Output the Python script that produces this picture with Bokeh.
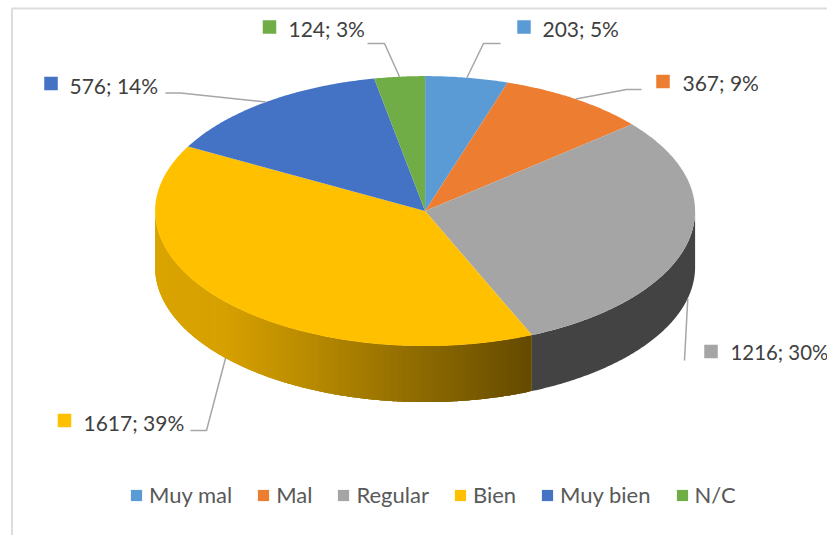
import math
from bokeh.plotting import figure
from bokeh.models import Range1d, Legend, LegendItem
from bokeh.core.properties import value
from bokeh.embed import file_html
from bokeh.resources import INLINE

categories = ["Muy mal", "Mal", "Regular", "Bien", "Muy bien", "N/C"]
values = [203, 367, 1216, 1617, 576, 124]
colors = ["#5B9BD5", "#ED7D31", "#A5A5A5", "#FFC000", "#4472C4", "#70AD47"]
regular_side = "#434343"
bien_side_stops = [(155, (218, 164, 0)), (225, (214, 160, 0)), (300, (188, 141, 0)),
                   (425, (140, 105, 0)), (532, (100, 74, 0))]

W, H = 827, 535
CX, CY, RX, RY, DEPTH = 424.6, 210.6, 270.0, 135.0, 56.0

# leader elbows and label anchors, in page pixels
label_swatch = [(523.5, 26.5), (662.5, 81), (710.5, 351), (64, 420), (50.5, 83), (269, 26.5)]
label_text_x = [542, 682, 730, 83, 69, 288]
label_text_y = [27.5, 81.5, 351.5, 421.5, 84.5, 27.5]
label_text_size = ["21px", "21px", "20.4px", "21px", "21px", "21px"]
leader_mid = [[(483, 43), (500, 43)], [(626, 89), (641, 89)], [(684, 360)],
              [(206, 430), (190, 430)], [(180, 92.5), (165, 92.5)], [(384, 43), (367, 43)]]

total = sum(values)
bounds = [0.0]
for v in values:
    bounds.append(bounds[-1] + 360.0 * v / total)


def pt(deg, dy=0.0):
    r = math.radians(deg)
    return CX + RX * math.sin(r), CY - RY * math.cos(r) + dy


def arc(a, b, n_per_deg=1.0, dy=0.0):
    n = max(2, int(abs(b - a) * n_per_deg) + 1)
    return [pt(a + (b - a) * i / (n - 1), dy) for i in range(n)]


def bien_colour(x):
    for (x0, c0), (x1, c1) in zip(bien_side_stops, bien_side_stops[1:]):
        if x <= x1:
            t = max(0.0, (x - x0) / (x1 - x0))
            return "#%02x%02x%02x" % tuple(round(c0[i] + (c1[i] - c0[i]) * t) for i in range(3))
    return "#644a00"


p = figure(width=W, height=H, output_backend="svg", toolbar_location=None,
           x_range=Range1d(0, W), y_range=Range1d(H, 0),
           min_border=0, outline_line_color=None, background_fill_color="white",
           border_fill_color="white")
p.xaxis.visible = False
p.yaxis.visible = False
p.grid.visible = False

# chart frame (left and top edges are the only ones inside the picture)
p.line([11.5, 11.5, W], [H, 8, 8], line_color="#DDDDDD", line_width=2)

# side wall: Regular
a, b = 90.0, bounds[3]
top = arc(a, b, 2)
bot = arc(b, a, 2, DEPTH)
poly = top + bot
p.patch([q[0] for q in poly], [q[1] for q in poly], fill_color=regular_side,
        line_color=None)

# side wall: Bien, a gradient of overlapping strips painted right to left
a, b = bounds[3], 270.0
steps = 220
for i in range(steps):
    s0 = a + (b - a) * i / steps
    s1 = min(b, a + (b - a) * (i + 3) / steps)
    top = arc(s0, s1, 4)
    c = bien_colour((pt(s0)[0] + pt(a + (b - a) * (i + 1) / steps)[0]) / 2)
    bot = arc(s1, s0, 4, DEPTH)
    poly = top + bot
    p.patch([q[0] for q in poly], [q[1] for q in poly], fill_color=c, line_color=None)

# top face
items = []
for i, cat in enumerate(categories):
    poly = [(CX, CY)] + arc(bounds[i], bounds[i + 1], 2)
    r = p.patch([q[0] for q in poly], [q[1] for q in poly], fill_color=colors[i],
                line_color=None)
    items.append(LegendItem(label=cat, renderers=[r]))

# leaders
for i in range(len(values)):
    mid = (bounds[i] + bounds[i + 1]) / 2
    front = 90 < mid < 270
    start = pt(mid, DEPTH if front else 0.0)
    pts = [start] + leader_mid[i]
    p.line([q[0] for q in pts], [q[1] for q in pts], line_color="#A6A6A6", line_width=1.5)

# data labels
texts = ["%d; %d%%" % (v, round(100 * v / total)) for v in values]
p.scatter([q[0] for q in label_swatch], [q[1] for q in label_swatch], marker="square",
          size=13.5, fill_color=colors, line_color=None)
for i, t in enumerate(texts):
    p.text([label_text_x[i]], [label_text_y[i]], text=[t], text_font=value("Lato"),
           text_font_size=label_text_size[i], text_color="#404040",
           text_baseline="middle", text_align="left")

legend = Legend(items=items, orientation="horizontal", location=(129, 27),
                glyph_width=14, glyph_height=14, label_standoff=6, spacing=24,
                padding=0, margin=0, background_fill_alpha=0, border_line_color=None,
                label_text_font="Lato", label_text_font_size="22px",
                label_text_color="#595959", label_height=18)
p.add_layout(legend, "center")

open("out.html", "w").write(file_html(p, INLINE))
